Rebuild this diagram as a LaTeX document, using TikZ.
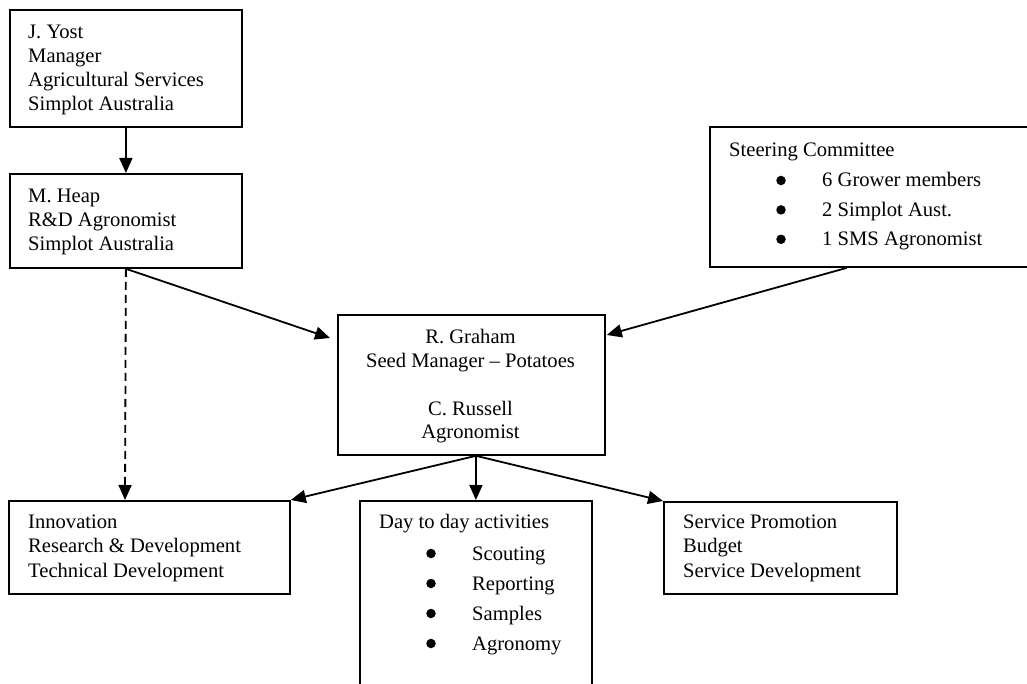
\documentclass[tikz,border=0pt]{standalone}
\usepackage{fontspec}
\setmainfont{Liberation Serif}
\usetikzlibrary{arrows.meta,calc}
\begin{document}
\begin{tikzpicture}[x=1pt,y=-1pt,
  box/.style={draw,line width=1.8pt,anchor=north west,inner sep=0pt},
  txt/.style={anchor=base west,inner sep=0pt,font=\fontsize{20.6}{24}\selectfont},
  ctxt/.style={anchor=base,inner sep=0pt,font=\fontsize{20.6}{24}\selectfont},
  bul/.style={circle,fill=black,inner sep=0pt,minimum size=9.5pt},
  arr/.style={line width=1.8pt,-{Triangle[length=15pt,width=13pt]}},
  dasharr/.style={arr,dash pattern=on 8pt off 5pt}]
\clip (0,0) rectangle (1027,684);
\fill[white] (0,0) rectangle (1027,684);

% boxes
\node[box,minimum width=232pt,minimum height=117pt] (yost) at (9,9) {};
\node[box,minimum width=232pt,minimum height=94pt] (heap) at (9,173) {};
\node[box,minimum width=331pt,minimum height=140pt] (steer) at (709,126) {};
\node[box,minimum width=267pt,minimum height=140pt] (center) at (337,314) {};
\node[box,minimum width=281pt,minimum height=93pt] (innov) at (8,500) {};
\node[box,minimum width=232pt,minimum height=200pt] (day) at (359,500) {};
\node[box,minimum width=233pt,minimum height=92pt] (serv) at (663,501) {};

% texts
\foreach \t [count=\i] in {J. Yost,Manager,Agricultural Services,Simplot Australia}
  \node[txt] (yost-\i) at (28,{39+23.7*(\i-1)}) {\t};
\foreach \t [count=\i] in {M. Heap,R\&D Agronomist,Simplot Australia}
  \node[txt] (heap-\i) at (28,{203+23.7*(\i-1)}) {\t};
\node[txt] (steer-0) at (729,157) {Steering Committee};
\foreach \t [count=\i] in {6 Grower members,2 Simplot Aust.,1 SMS Agronomist}{
  \node[txt] (steer-\i) at (822,{187+29.4*(\i-1)}) {\t};
  \node[bul] (steerb-\i) at (781,{180.5+29.4*(\i-1)}) {};
}
\node[ctxt] (center-1) at (470.5,343) {R. Graham};
\node[ctxt] (center-2) at (470.5,367) {Seed Manager – Potatoes};
\node[ctxt] (center-3) at (470.5,415) {C. Russell};
\node[ctxt] (center-4) at (470.5,438.5) {Agronomist};
\foreach \t [count=\i] in {Innovation,Research \& Development,Technical Development}
  \node[txt] (innov-\i) at (28,{528+24.5*(\i-1)}) {\t};
\node[txt] (day-0) at (379,528) {Day to day activities};
\foreach \t [count=\i] in {Scouting,Reporting,Samples,Agronomy}{
  \node[txt] (day-\i) at (472,{560+30*(\i-1)}) {\t};
  \node[bul] (dayb-\i) at (431,{553.5+30*(\i-1)}) {};
}
\foreach \t [count=\i] in {Service Promotion,Budget,Service Development}
  \node[txt] (serv-\i) at (683,{528+24.5*(\i-1)}) {\t};

% connectors
\coordinate (heapin) at ($(center.north west)+(-7,24)$);
\coordinate (steerout) at ($(steer.south west)+(138,0)$);
\coordinate (steerin) at ($(center.north east)+(1,21)$);
\coordinate (cout) at ($(center.south west)+(139,0)$);
\coordinate (innovin) at ($(innov.north west)+(117,0)$);

\draw[arr] (yost.south) -- (heap.north);
\draw[arr] (heap.south) -- (heapin);
\draw[dasharr] (heap.south) -- (innovin);
\draw[arr] (steerout) -- (steerin);
\draw[arr] (cout) -- (innov.north east);
\draw[arr] (cout) -- (day.north);
\draw[arr] (cout) -- (serv.north west);
\end{tikzpicture}
\end{document}
